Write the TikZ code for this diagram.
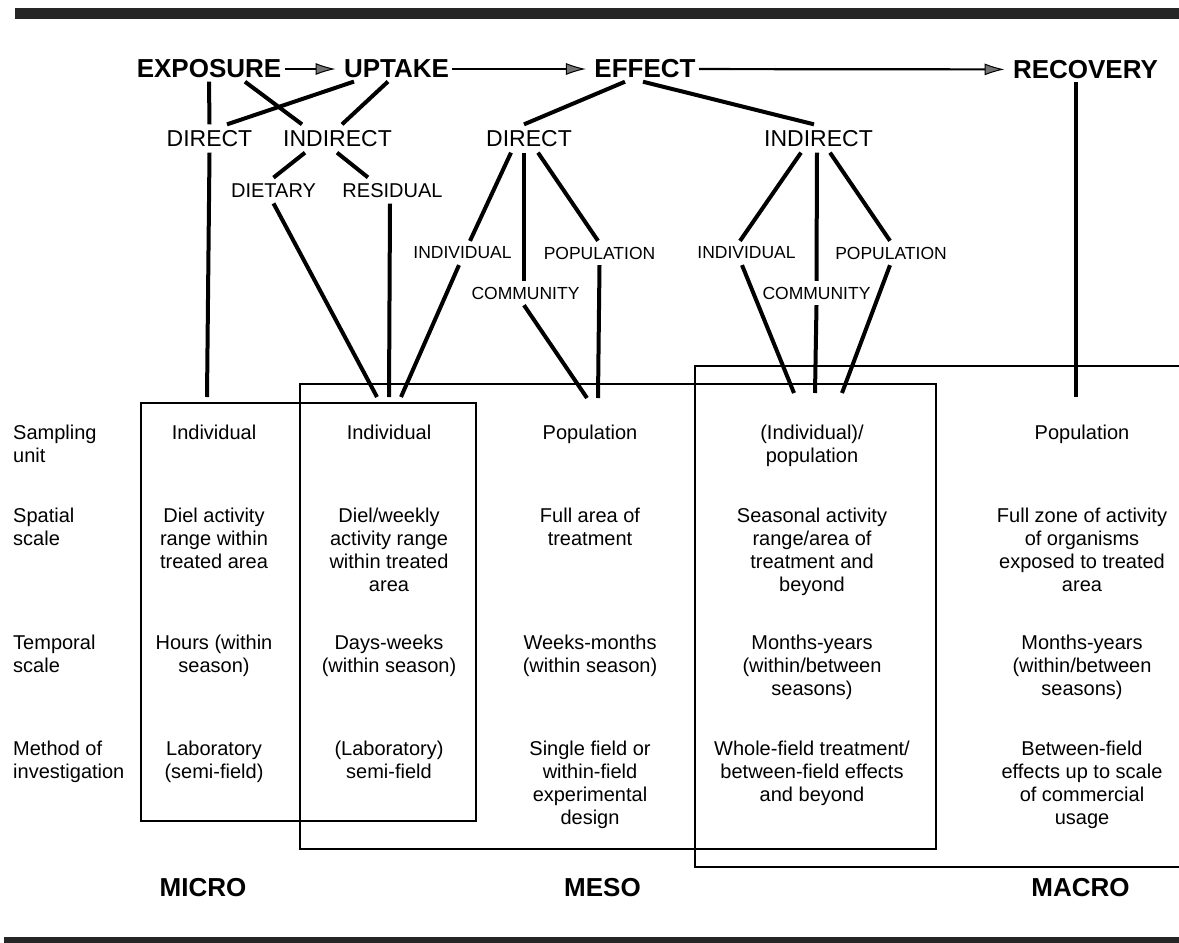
\documentclass[tikz,border=0pt]{standalone}
\usepackage{fontspec}
\setmainfont{Liberation Sans}
\usepackage{tikz}
\usetikzlibrary{arrows.meta}

\begin{document}
\begin{tikzpicture}[
  x=1pt,y=-1pt,
  title/.style={inner sep=0pt,outer sep=3.5pt,font=\fontsize{26pt}{30pt}\selectfont\bfseries},
  branch/.style={inner sep=0pt,outer sep=6pt,font=\fontsize{23pt}{27pt}\selectfont},
  leaf/.style={inner sep=0pt,outer sep=6pt,font=\fontsize{20pt}{24pt}\selectfont},
  twig/.style={inner sep=0pt,outer sep=6pt,font=\fontsize{17.5pt}{21pt}\selectfont},
  cell/.style={inner sep=0pt,anchor=north,align=center,font=\fontsize{20pt}{23pt}\selectfont},
  rowlab/.style={inner sep=0pt,anchor=north west,align=left,font=\fontsize{20pt}{23pt}\selectfont},
  scalelab/.style={inner sep=0pt,font=\fontsize{26pt}{30pt}\selectfont\bfseries},
  link/.style={line width=4pt},
  arr/.style={-{Latex[length=20pt,width=12pt,fill=black!55,line width=1pt]},line width=2.2pt,shorten >=5pt},
  frame/.style={line width=1.6pt},
  bar/.style={fill=black!85}
]
\useasboundingbox (0,0) rectangle (1179,943);
\fill[bar] (15,8) rectangle (1179,19);
\fill[bar] (4,937) rectangle (1179,943);

\node[title] (exposure) at (209,69) {EXPOSURE};
\node[title] (uptake) at (396.5,69) {UPTAKE};
\node[title] (effect) at (645,69) {EFFECT};
\node[title] (recovery) at (1085.5,69.5) {RECOVERY};
\node[branch] (direct) at (209.5,138.5) {DIRECT};
\node[branch] (indirect) at (337.5,138.5) {INDIRECT};
\node[branch] (edirect) at (529,138.5) {DIRECT};
\node[branch] (eindirect) at (818.5,138.5) {INDIRECT};
\node[leaf] (dietary) at (273.5,190.5) {DIETARY};
\node[leaf] (residual) at (392.5,190.5) {RESIDUAL};
\node[twig] (dind) at (462.5,253) {INDIVIDUAL};
\node[twig] (dcom) at (525.5,293) {COMMUNITY};
\node[twig] (dpop) at (599.5,253) {POPULATION};
\node[twig] (iind) at (746.5,253) {INDIVIDUAL};
\node[twig] (icom) at (816.5,293) {COMMUNITY};
\node[twig] (ipop) at (891,253) {POPULATION};

\coordinate (headA) at (207,397);
\coordinate (headB) at (389,397);
\coordinate (headC) at (598,398);
\coordinate (headD) at (815,393);
\coordinate (headE) at (1076,397);

\draw[frame] (141,403) rectangle (476,821);
\draw[frame] (300,384) rectangle (936,849);
\draw[frame] (1179,366) -- (695,366) -- (695,867) -- (1179,867);

\draw[arr] (exposure) -- (uptake);
\draw[arr] (uptake) -- (effect);
\draw[arr] (effect) -- (recovery);

\draw[link] (exposure.south) -- (direct.north);
\draw[link] (direct.south) -- (headA);
\draw[link] ([xshift=36pt]exposure.south) -- ([xshift=-35.5pt]indirect.north);
\draw[link] ([xshift=-42.5pt]uptake.south) -- ([xshift=17.5pt]direct.north);
\draw[link] ([xshift=-8.5pt]uptake.south) -- ([xshift=4.5pt]indirect.north);
\draw[link] ([xshift=-32.5pt]indirect.south) -- (dietary.north);
\draw[link] ([xshift=-0.5pt]indirect.south) -- ([xshift=-24.5pt]residual.north);
\draw[link] (dietary.south) -- ([xshift=-12pt]headB);
\draw[link] ([xshift=-2.5pt]residual.south) -- (headB);
\draw[link] ([xshift=-3.5pt]dind.south) -- ([xshift=12pt]headB);
\draw[link] ([xshift=-20pt]effect.south) -- ([xshift=-5pt]edirect.north);
\draw[link] ([xshift=-2pt]effect.south) -- ([xshift=-4.5pt]eindirect.north);
\draw[link] ([xshift=-18pt]edirect.south) -- ([xshift=7.5pt]dind.north);
\draw[link] ([xshift=-5pt]edirect.south) -- ([xshift=-1.5pt]dcom.north);
\draw[link] ([xshift=9pt]edirect.south) -- ([xshift=-1.5pt]dpop.north);
\draw[link] ([xshift=-1.5pt]dcom.south) -- ([xshift=-11pt]headC);
\draw[link] (dpop.south) -- (headC);
\draw[link] ([xshift=-17.5pt]eindirect.south) -- ([xshift=-6.5pt]iind.north);
\draw[link] ([xshift=-1.5pt]eindirect.south) -- (icom.north);
\draw[link] ([xshift=11.5pt]eindirect.south) -- ([xshift=-1pt]ipop.north);
\draw[link] ([xshift=-4.5pt]iind.south) -- ([xshift=-21pt]headD);
\draw[link] (icom.south) -- (headD);
\draw[link] ([xshift=-1pt]ipop.south) -- ([xshift=27pt]headD);
\draw[link] ([xshift=-9.5pt]recovery.south) -- (headE);

\node[rowlab] (unitlab) at (13,425.3) {Sampling\\unit};
\node[rowlab] (spacelab) at (13,507.8) {Spatial\\scale};
\node[rowlab] (timelab) at (13,634.8) {Temporal\\scale};
\node[rowlab] (methlab) at (13,740.8) {Method of\\investigation};

\node[cell] (unitA) at (214,425.3) {Individual};
\node[cell] (spaceA) at (214,507.8) {Diel activity\\range within\\treated area};
\node[cell] (timeA) at (214,634.8) {Hours (within\\season)};
\node[cell] (methA) at (214,740.8) {Laboratory\\(semi-field)};

\node[cell] (unitB) at (389,425.3) {Individual};
\node[cell] (spaceB) at (389,507.8) {Diel/weekly\\activity range\\within treated\\area};
\node[cell] (timeB) at (389,634.8) {Days-weeks\\(within season)};
\node[cell] (methB) at (389,740.8) {(Laboratory)\\semi-field};

\node[cell] (unitC) at (590,425.3) {Population};
\node[cell] (spaceC) at (590,507.8) {Full area of\\treatment};
\node[cell] (timeC) at (590,634.8) {Weeks-months\\(within season)};
\node[cell] (methC) at (590,740.8) {Single field or\\within-field\\experimental\\design};

\node[cell] (unitD) at (812,425.3) {(Individual)/\\population};
\node[cell] (spaceD) at (812,507.8) {Seasonal activity\\range/area of\\treatment and\\beyond};
\node[cell] (timeD) at (812,634.8) {Months-years\\(within/between\\seasons)};
\node[cell] (methD) at (812,740.8) {Whole-field treatment/\\between-field effects\\and beyond};

\node[cell] (unitE) at (1082,425.3) {Population};
\node[cell] (spaceE) at (1082,507.8) {Full zone of activity\\of organisms\\exposed to treated\\area};
\node[cell] (timeE) at (1082,634.8) {Months-years\\(within/between\\seasons)};
\node[cell] (methE) at (1082,740.8) {Between-field\\effects up to scale\\of commercial\\usage};

\node[scalelab] (micro) at (203,888) {MICRO};
\node[scalelab] (meso) at (602.5,888) {MESO};
\node[scalelab] (macro) at (1080.5,888) {MACRO};
\end{tikzpicture}
\end{document}
